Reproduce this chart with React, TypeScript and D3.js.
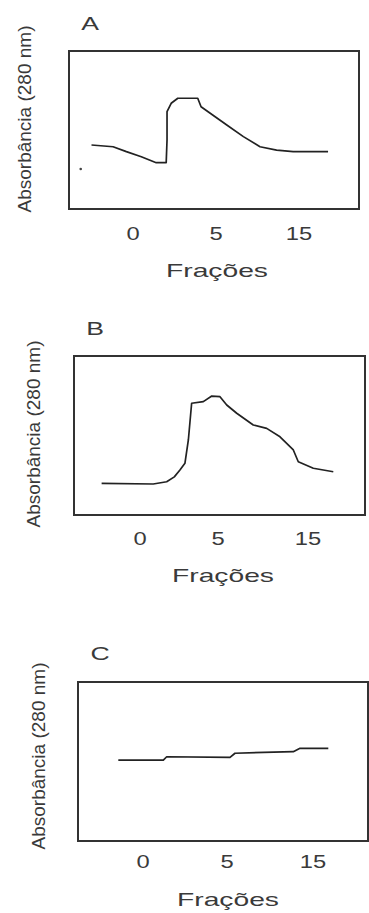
import React from 'react'
import * as d3 from 'd3'

// tick labels on the fraction axis (drawn evenly spaced in the original)
const fractionTicks = [0, 5, 15]
const panelNames = ['A', 'B', 'C']
const xTitle = 'Frações'
const yTitle = 'Absorbância (280 nm)'

// panel A
const fracA = [-2.5, -1.2, -0.4, 0.5, 1.4, 2.0, 2.05, 2.05, 2.3, 2.7, 3.9, 4.1, 4.8, 6.3, 8.3, 10.3, 12.3, 14.3, 18.5]
const absA = [0.405, 0.394, 0.363, 0.331, 0.293, 0.293, 0.437, 0.616, 0.669, 0.701, 0.701, 0.647, 0.595, 0.532, 0.458, 0.394, 0.373, 0.363, 0.363]
const strayFracA = [-3.15]
const strayAbsA = [0.253]

// panel B
const fracB = [-2.46, 0.85, 1.71, 2.2, 2.56, 2.88, 3.1, 3.31, 4.06, 4.6, 5.22, 5.97, 7.08, 8.92, 10.41, 11.89, 13.37, 13.92, 15.59, 17.81]
const absB = [0.199, 0.195, 0.209, 0.24, 0.283, 0.325, 0.472, 0.703, 0.713, 0.748, 0.744, 0.692, 0.64, 0.566, 0.545, 0.492, 0.409, 0.335, 0.294, 0.272]

// panel C
const fracC = [-1.47, 1.21, 1.41, 5.35, 5.93, 12.71, 13.49, 16.78]
const absC = [0.509, 0.509, 0.53, 0.526, 0.552, 0.562, 0.583, 0.583]

const series = [
  { frac: fracA, abs: absA, strayFrac: strayFracA, strayAbs: strayAbsA },
  { frac: fracB, abs: absB, strayFrac: [], strayAbs: [] },
  { frac: fracC, abs: absC, strayFrac: [], strayAbs: [] }
]

// where each panel sits on the page
const layout = [
  { box: [69, 51, 359, 209], tickX: [133, 216, 299], tickY: 240, nameX: 90, nameY: 30, xTitleX: 217, xTitleY: 277, yTitleX: 31, yTitleY: 119 },
  { box: [74, 356, 365, 515], tickX: [140, 218, 308], tickY: 545, nameX: 95, nameY: 335, xTitleX: 223, xTitleY: 582, yTitleX: 40, yTitleY: 434 },
  { box: [78, 682, 368, 841], tickX: [143, 227, 313], tickY: 868, nameX: 100, nameY: 660, xTitleX: 228, xTitleY: 906, yTitleX: 45, yTitleY: 756 }
]

const font = '"Liberation Sans", Arial, sans-serif'
const ink = '#3a3a3a'

function Panel({ idx }: { idx: number }) {
  const L = layout[idx]
  const s = series[idx]
  const [x0, y0, x1, y1] = L.box

  const x = d3.scaleLinear().domain(fractionTicks).range(L.tickX)
  const y = d3.scaleLinear().domain([0, 1]).range([y1, y0])

  const line = d3
    .line<number>()
    .x((_, i) => x(s.frac[i]))
    .y(d => y(d))

  return (
    <g>
      <text
        transform={`translate(${L.nameX},${L.nameY}) scale(1.4,1)`}
        textAnchor="middle"
        fontSize={19}
        fill={ink}
        fontFamily={font}
      >
        {panelNames[idx]}
      </text>
      <rect
        x={x0}
        y={y0}
        width={x1 - x0}
        height={y1 - y0}
        fill="none"
        stroke="#333"
        strokeWidth={2}
      />
      <path
        d={line(s.abs) || ''}
        fill="none"
        stroke="#222"
        strokeWidth={1.7}
        strokeLinejoin="round"
      />
      {s.strayFrac.map((f, i) => (
        <circle key={i} cx={x(f)} cy={y(s.strayAbs[i])} r={1.3} fill="#444" />
      ))}
      {fractionTicks.map(t => (
        <text
          key={t}
          transform={`translate(${x(t)},${L.tickY}) scale(1.25,1)`}
          textAnchor="middle"
          fontSize={19}
          fill={ink}
          fontFamily={font}
        >
          {t}
        </text>
      ))}
      <text
        x={L.xTitleX - 51}
        y={L.xTitleY}
        textLength={102}
        lengthAdjust="spacingAndGlyphs"
        fontSize={19}
        fill={ink}
        fontFamily={font}
      >
        {xTitle}
      </text>
      <text
        transform={`translate(${L.yTitleX},${L.yTitleY}) rotate(-90)`}
        textAnchor="middle"
        fontSize={19}
        fill={ink}
        fontFamily={font}
      >
        {yTitle}
      </text>
    </g>
  )
}

export default function App() {
  return (
    <svg
      width={369}
      height={913}
      style={{ position: 'absolute', left: 0, top: 0, background: '#fff' }}
    >
      {panelNames.map((_, i) => (
        <Panel key={i} idx={i} />
      ))}
    </svg>
  )
}
